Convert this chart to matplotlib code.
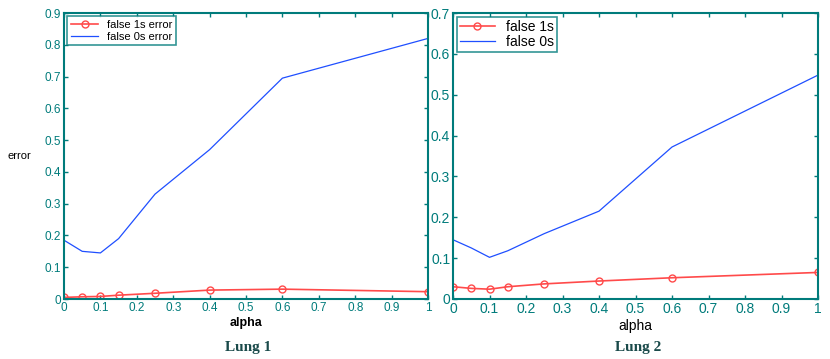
#!/bin/python3

"""
Two-panel error vs alpha plot (Lung 1, Lung 2), MATLAB-style.
"""

import matplotlib
matplotlib.use("Agg")
import matplotlib.pyplot as plt

ALPHA = [0, 0.05, 0.1, 0.15, 0.25, 0.4, 0.6, 1.0]

LUNG1_FALSE1 = [0.005, 0.007, 0.008, 0.012, 0.018, 0.028, 0.031, 0.023]
LUNG1_FALSE0 = [0.185, 0.15, 0.145, 0.19, 0.33, 0.47, 0.695, 0.82]

LUNG2_FALSE1 = [0.030, 0.026, 0.024, 0.030, 0.037, 0.044, 0.052, 0.065]
LUNG2_FALSE0 = [0.145, 0.125, 0.102, 0.118, 0.16, 0.215, 0.372, 0.548]

XTICKS = [0, 0.1, 0.2, 0.3, 0.4, 0.5, 0.6, 0.7, 0.8, 0.9, 1]
XTICK_LABELS = ["0", "0.1", "0.2", "0.3", "0.4", "0.5", "0.6", "0.7", "0.8", "0.9", "1"]

TEAL = "#007b7b"
RED = "#ff4a4a"
BLUE = "#1f4fff"

plt.rcParams.update({
    "font.family": "Liberation Sans",
    "font.size": 8,
    "xtick.direction": "in",
    "ytick.direction": "in",
    "xtick.top": True,
    "ytick.right": True,
    "xtick.color": TEAL,
    "ytick.color": TEAL,
    "xtick.labelcolor": TEAL,
    "ytick.labelcolor": TEAL,
})

fig = plt.figure(figsize=(8.3, 3.59), dpi=100)
W, H = 830, 359


def panel(left, right, top, bottom):
    return fig.add_axes([left / W, 1 - bottom / H, (right - left) / W, (bottom - top) / H])


def style(ax, ymax, yticks, ylabels):
    ax.set_xlim(0, 1)
    ax.set_ylim(0, ymax)
    ax.set_xticks(XTICKS, XTICK_LABELS)
    ax.set_yticks(yticks, ylabels)
    ax.tick_params(length=3, width=1, pad=2)
    for s in ax.spines.values():
        s.set_color(TEAL)
        s.set_linewidth(1.5)


ax1 = panel(64, 428, 13, 299)
ax1.plot(ALPHA, LUNG1_FALSE1, color=RED, lw=1.2, marker="o", ms=5,
         mfc="none", mec=RED, label="false 1s error")
ax1.plot(ALPHA, LUNG1_FALSE0, color=BLUE, lw=0.9, label="false 0s error")
y1 = [0, 0.1, 0.2, 0.3, 0.4, 0.5, 0.6, 0.7, 0.8, 0.9]
style(ax1, 0.9, y1, ["0"] + [f"{v:.1f}" for v in y1[1:]])
ax1.tick_params(labelsize=8.5)
ax1.set_xlabel("alpha", fontsize=9, fontweight="bold", labelpad=2)
ax1.set_ylabel("error", rotation=0, fontsize=8, labelpad=18, va="center")
leg1 = ax1.legend(loc="upper left", fontsize=8, handlelength=2.5,
                  borderpad=0.3, labelspacing=0.2, fancybox=False,
                  borderaxespad=0.3)
leg1.get_frame().set_edgecolor(TEAL)
leg1.get_frame().set_linewidth(1.2)

ax2 = panel(453, 818, 13, 299)
ax2.plot(ALPHA, LUNG2_FALSE1, color=RED, lw=1.2, marker="o", ms=5,
         mfc="none", mec=RED, label="false 1s")
ax2.plot(ALPHA, LUNG2_FALSE0, color=BLUE, lw=0.9, label="false 0s")
y2 = [0, 0.1, 0.2, 0.3, 0.4, 0.5, 0.6, 0.7]
style(ax2, 0.7, y2, ["0"] + [f"{v:.1f}" for v in y2[1:]])
ax2.tick_params(labelsize=10)
ax2.set_xlabel("alpha", fontsize=10, labelpad=2)
leg2 = ax2.legend(loc="upper left", fontsize=10, handlelength=2.5,
                  borderpad=0.2, labelspacing=0.1, fancybox=False,
                  borderaxespad=0.3)
leg2.get_frame().set_edgecolor(TEAL)
leg2.get_frame().set_linewidth(1.2)

fig.text(248 / W, 1 - 347 / H, "Lung 1", family="Liberation Serif",
         fontsize=11, fontweight="bold", color="#1a4a4a", ha="center", va="center")
fig.text(638 / W, 1 - 347 / H, "Lung 2", family="Liberation Serif",
         fontsize=11, fontweight="bold", color="#1a4a4a", ha="center", va="center")

fig.savefig("out.png", dpi=100)
